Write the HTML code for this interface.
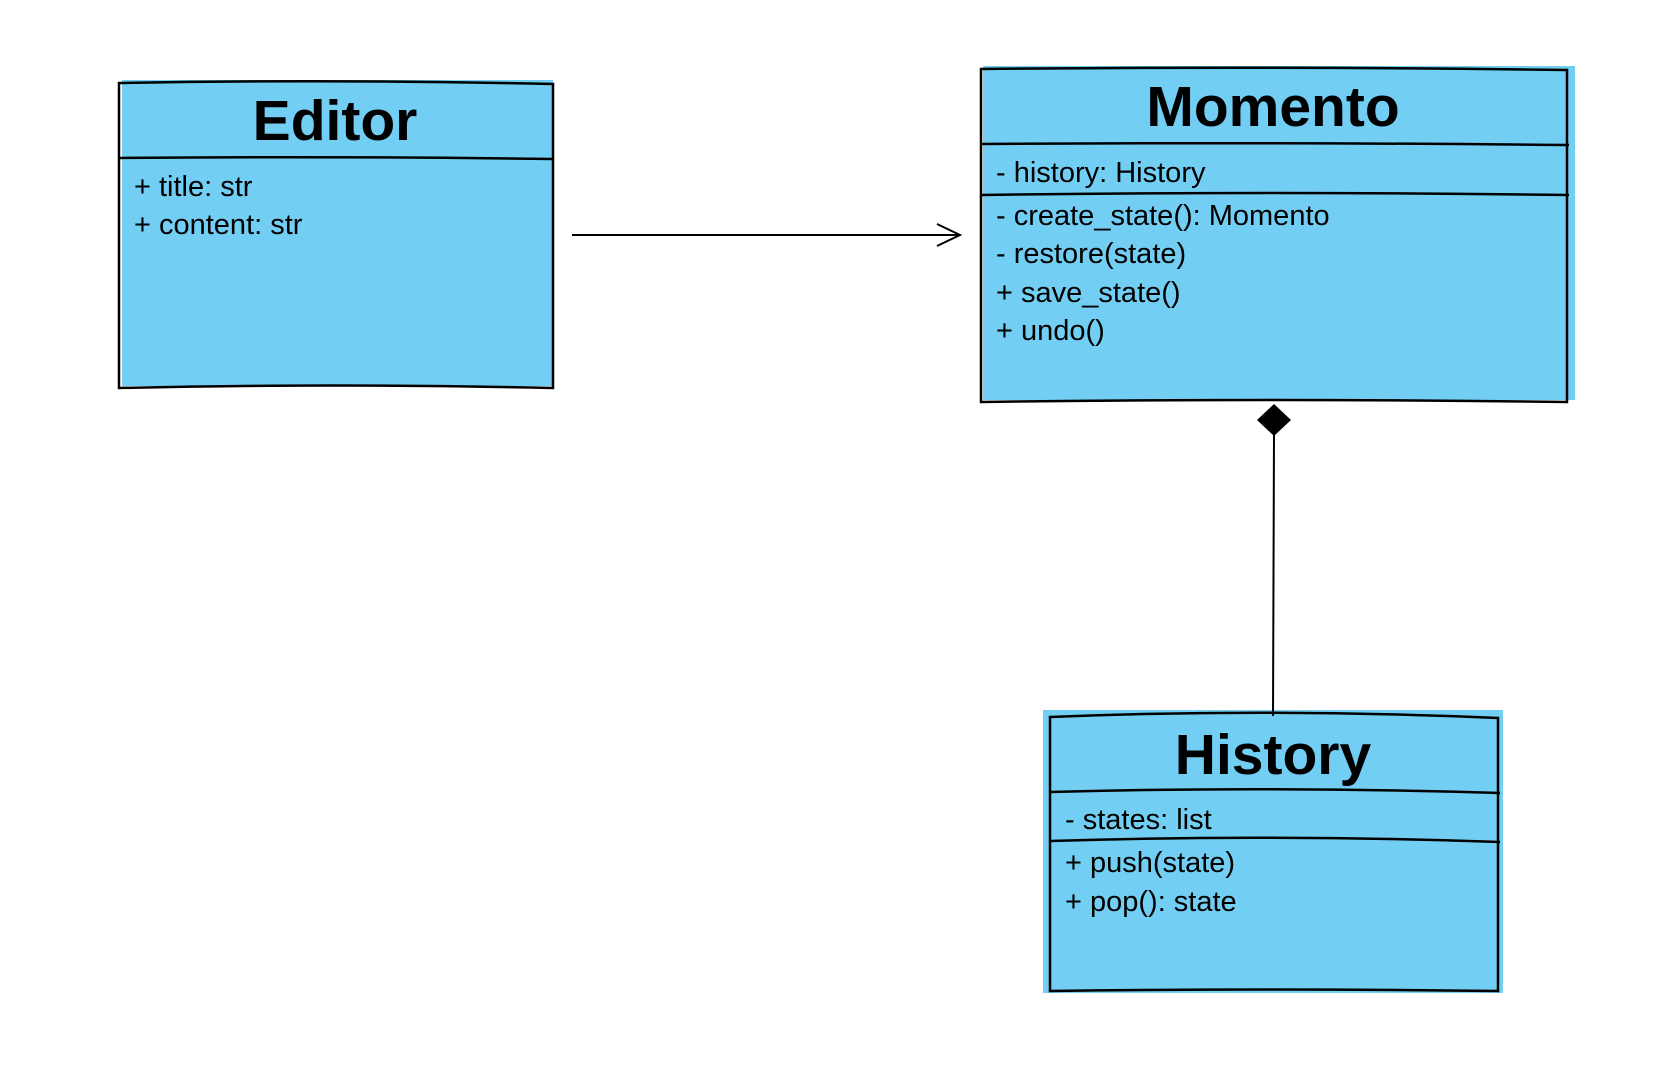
<!DOCTYPE html>
<html><head><style>body{margin:0;background:#fff}svg{display:block}</style></head><body>
<svg width="1676" height="1072" viewBox="0 0 1676 1072" xmlns="http://www.w3.org/2000/svg" font-family="'Liberation Sans', sans-serif">
<g fill="#72cef3">
<rect x="122" y="80" width="431" height="306"/>
<rect x="983" y="66" width="592" height="334"/>
<rect x="1043" y="710" width="460" height="283"/>
</g>
<g fill="none" stroke="#000" stroke-width="2.5">
<path d="M119 83 Q330 79 553 84 L553 388 Q330 383 119 388 Z"/>
<path d="M119 158 Q330 156 553 159"/>
<path d="M981 69 Q1270 66 1567 70 L1567 402 Q1270 398 981 402 Z"/>
<path d="M981 144 Q1270 142 1569 145"/>
<path d="M981 195 Q1270 191 1569 195"/>
<path d="M1050 717 Q1270 708 1498 718 L1498 991 Q1270 988 1050 991 Z"/>
<path d="M1050 792 Q1270 786 1500 793"/>
<path d="M1050 841 Q1270 834 1500 842"/>
</g>
<g stroke="#000" stroke-width="2" fill="none">
<path d="M572 235 L958 235"/>
<path d="M937 224 L960 235 L937 246"/>
<path d="M1274 434 L1273 716"/>
</g>
<path d="M1274 404 L1291 420 L1274 436 L1257 420 Z" fill="#000"/>
<g font-weight="bold" font-size="57" text-anchor="middle">
<text x="335" y="140">Editor</text>
<text x="1273" y="126">Momento</text>
<text x="1273" y="774">History</text>
</g>
<g font-size="29">
<text x="134" y="196">+ title: str</text>
<text x="134" y="234">+ content: str</text>
<text x="996" y="182">- history: History</text>
<text x="996" y="225">- create_state(): Momento</text>
<text x="996" y="263">- restore(state)</text>
<text x="996" y="302">+ save_state()</text>
<text x="996" y="340">+ undo()</text>
<text x="1065" y="829">- states: list</text>
<text x="1065" y="872">+ push(state)</text>
<text x="1065" y="911">+ pop(): state</text>
</g>
</svg>
</body></html>
